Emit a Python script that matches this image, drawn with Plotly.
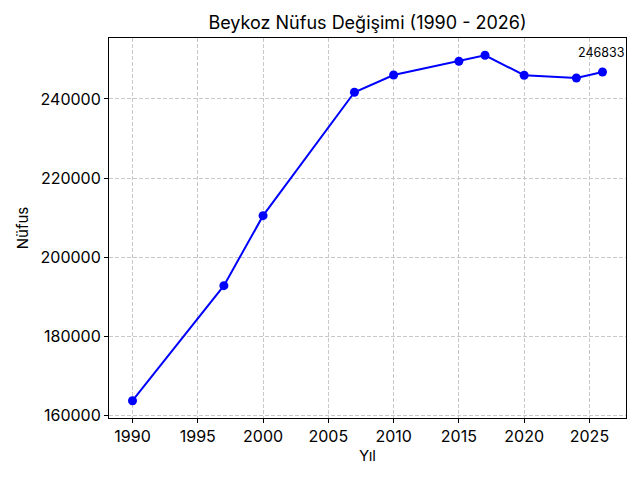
import plotly.graph_objects as go

years = [1990, 1997, 2000, 2007, 2010, 2015, 2017, 2020, 2024, 2026]
population = [163700, 192800, 210500, 241700, 246050, 249550, 251050, 246000, 245300, 246833]
x_ticks = [1990, 1995, 2000, 2005, 2010, 2015, 2020, 2025]
y_ticks = [160000, 180000, 200000, 220000, 240000]

FONT = "Inter"

fig = go.Figure()
fig.add_trace(go.Scatter(
    x=years, y=population, mode="lines+markers",
    line=dict(color="#0000ff", width=2),
    marker=dict(color="#0000ff", size=9),
    showlegend=False,
))

fig.add_annotation(
    x=years[-1], y=population[-1], text=str(population[-1]),
    showarrow=False, yshift=19, xshift=-2,
    font=dict(family=FONT, size=12.5, color="black"),
)

xr = (min(years), max(years))
dx = (xr[1] - xr[0]) * 0.05
yr = (min(population), max(population))
dy = (yr[1] - yr[0]) * 0.05

axis_common = dict(
    showline=True, linecolor="black", linewidth=1, mirror=True,
    ticks="outside", ticklen=4, tickcolor="black", tickwidth=1,
    showgrid=True, gridcolor="#c8c8c8", griddash="4px,2px", gridwidth=1,
    zeroline=False, tickfont=dict(family=FONT, size=16, color="black"),
)

fig.update_layout(
    width=640, height=480,
    margin=dict(l=109, r=14, t=38, b=62, autoexpand=False),
    paper_bgcolor="white", plot_bgcolor="white",
    hovermode=False,
    title=dict(text="Beykoz Nüfus Değişimi (1990 - 2026)", x=0.5 * (109 + 626) / 640, xanchor="center",
               y=1 - 23 / 480, yanchor="middle",
               font=dict(family=FONT, size=18, color="black")),
    xaxis=dict(range=[xr[0] - dx, xr[1] + dx], tickvals=x_ticks,
               title=dict(text="Yıl", font=dict(family=FONT, size=15, color="black"), standoff=4),
               **axis_common),
    yaxis=dict(range=[yr[0] - dy, yr[1] + dy], tickvals=y_ticks, tickformat="d",
               title=dict(text="Nüfus", font=dict(family=FONT, size=15, color="black"), standoff=8),
               **axis_common),
)

fig.write_html("out.html", config={"displayModeBar": False},
               post_script="document.body.style.margin='0';")
